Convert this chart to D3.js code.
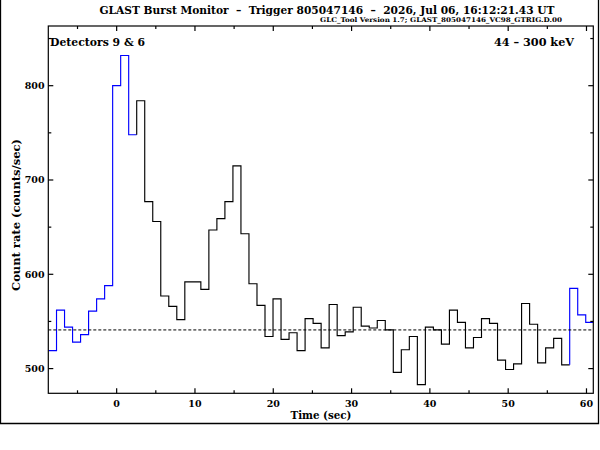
<!DOCTYPE html>
<html>
<head>
<meta charset="utf-8">
<script src="https://cdn.jsdelivr.net/npm/d3@7"></script>
<style>
  body { margin: 0; background: #fff; }
  svg text { font-family: "DejaVu Serif", "Liberation Serif", serif; font-weight: bold; fill: #000; white-space: pre; }
</style>
</head>
<body>
<svg id="chart" width="600" height="450"></svg>
<script>
/////////////////////////////////////////////////////////////////////////////////////
// Data
var titleText = "GLAST Burst Monitor  \u2013  Trigger 805047146  \u2013  2026, Jul 06, 16:12:21.43 UT";
var subtitleText = "GLC_Tool Version 1.7; GLAST_805047146_VC98_GTRIG.D.00";
var detectorText = "Detectors 9 & 6";
var energyText = "44 \u2013 300 keV";
var xLabel = "Time (sec)";
var yLabel = "Count rate (counts/sec)";

var binStart = -8.704;   // first bin edge (sec)
var binWidth = 1.024;    // bin width (sec)
var rates = [519, 562, 544, 528, 536, 561, 574, 588, 800, 832,
             748, 784, 677, 656, 577, 566, 552, 592, 592, 584,
             647, 659, 677, 715, 643, 590, 567, 534, 574, 531,
             538, 519, 553, 548, 522, 568, 535, 539, 565, 545,
             543, 551, 541, 496, 520, 534, 483, 544, 541, 526,
             562, 549, 522, 533, 553, 548, 509, 499, 505, 569,
             547, 506, 522, 532, 504, 585, 557, 549];
var background = 541;    // dashed background level
// bins used as background intervals (drawn blue), the rest is the source interval
var bgIntervals = [[0, 10], [65, 67]];

var xDomain = [-8.73, 60.87];
var yDomain = [473.8, 863.3];
var xMajor = [0, 10, 20, 30, 40, 50, 60];
var xMinor = [-5, 5, 15, 25, 35, 45, 55];
var yMajor = [500, 600, 700, 800];
var yMinor = [550, 650, 750, 850];

/////////////////////////////////////////////////////////////////////////////////////
// Layout
var svg = d3.select("#chart");
var plot = {left: 48.3, right: 593.3, top: 26, bottom: 393.3};

var xScale = d3.scaleLinear().domain(xDomain).range([plot.left, plot.right]);
var yScale = d3.scaleLinear().domain(yDomain).range([plot.bottom, plot.top]);

svg.append("defs").append("clipPath").attr("id", "plotClip")
   .append("rect")
   .attr("x", plot.left).attr("y", plot.top)
   .attr("width", plot.right - plot.left).attr("height", plot.bottom - plot.top);

// outer border
svg.append("path")
   .attr("d", "M0.5,0 V423.5 H598.5 V0")
   .attr("fill", "none").attr("stroke", "#000").attr("stroke-width", 1.3);

/////////////////////////////////////////////////////////////////////////////////////
// Histogram
function edge(i) { return binStart + i * binWidth; }

function isBg(i) {
  return bgIntervals.some(function(r) { return i >= r[0] && i <= r[1]; });
}

// split bins into runs of same type
var runs = [];
rates.forEach(function(v, i) {
  var bg = isBg(i);
  if (!runs.length || runs[runs.length - 1].bg !== bg) runs.push({bg: bg, bins: []});
  runs[runs.length - 1].bins.push(i);
});

var g = svg.append("g").attr("clip-path", "url(#plotClip)");

runs.forEach(function(run) {
  var first = run.bins[0];
  var pts = [];
  // connector from previous bin value (belongs to this run)
  if (first > 0) pts.push([xScale(edge(first)), yScale(rates[first - 1])]);
  run.bins.forEach(function(i) {
    pts.push([xScale(edge(i)), yScale(rates[i])]);
    pts.push([xScale(edge(i + 1)), yScale(rates[i])]);
  });
  g.append("path")
   .attr("d", d3.line()(pts))
   .attr("fill", "none")
   .attr("stroke", run.bg ? "#0000ff" : "#000")
   .attr("stroke-width", 1.15);
});

// background level
g.append("line")
 .attr("x1", plot.left).attr("x2", plot.right)
 .attr("y1", yScale(background)).attr("y2", yScale(background))
 .attr("stroke", "#000").attr("stroke-width", 1)
 .attr("stroke-dasharray", "3,2");

/////////////////////////////////////////////////////////////////////////////////////
// Axes
svg.append("rect")
   .attr("x", plot.left).attr("y", plot.top)
   .attr("width", plot.right - plot.left).attr("height", plot.bottom - plot.top)
   .attr("fill", "none").attr("stroke", "#000").attr("stroke-width", 1.2);

function ticksX(vals, len) {
  vals.forEach(function(t) {
    var x = xScale(t);
    svg.append("line").attr("x1", x).attr("x2", x)
       .attr("y1", plot.bottom).attr("y2", plot.bottom - len)
       .attr("stroke", "#000").attr("stroke-width", 1.2);
    svg.append("line").attr("x1", x).attr("x2", x)
       .attr("y1", plot.top).attr("y2", plot.top + len)
       .attr("stroke", "#000").attr("stroke-width", 1.2);
  });
}
function ticksY(vals, len) {
  vals.forEach(function(v) {
    var y = yScale(v);
    svg.append("line").attr("x1", plot.left).attr("x2", plot.left + len)
       .attr("y1", y).attr("y2", y)
       .attr("stroke", "#000").attr("stroke-width", 1.2);
    svg.append("line").attr("x1", plot.right).attr("x2", plot.right - len)
       .attr("y1", y).attr("y2", y)
       .attr("stroke", "#000").attr("stroke-width", 1.2);
  });
}
ticksX(xMajor, 5);
ticksX(xMinor, 3);
ticksY(yMajor, 5);
ticksY(yMinor, 3);

svg.selectAll("xTickLabel")
   .data(xMajor)
   .enter()
   .append("text")
   .attr("x", function(d) { return xScale(d); })
   .attr("y", 406.5)
   .attr("text-anchor", "middle")
   .style("font-size", "9.5px")
   .text(function(d) { return d; });

svg.selectAll("yTickLabel")
   .data(yMajor)
   .enter()
   .append("text")
   .attr("x", 44.5)
   .attr("y", function(d) { return yScale(d) + 3.3; })
   .attr("text-anchor", "end")
   .style("font-size", "9.5px")
   .text(function(d) { return d; });

/////////////////////////////////////////////////////////////////////////////////////
// Texts
svg.append("text")
   .attr("x", 99.5).attr("y", 13.5)
   .attr("textLength", 455).attr("lengthAdjust", "spacingAndGlyphs")
   .style("font-size", "10.5px")
   .text(titleText);

svg.append("text")
   .attr("x", 320).attr("y", 22)
   .attr("textLength", 242).attr("lengthAdjust", "spacingAndGlyphs")
   .style("font-size", "6.5px")
   .text(subtitleText);

svg.append("text")
   .attr("x", 50).attr("y", 45.5)
   .attr("textLength", 95).attr("lengthAdjust", "spacingAndGlyphs")
   .style("font-size", "10.5px")
   .text(detectorText);

svg.append("text")
   .attr("x", 494).attr("y", 45.5)
   .attr("textLength", 80).attr("lengthAdjust", "spacingAndGlyphs")
   .style("font-size", "10.5px")
   .text(energyText);

svg.append("text")
   .attr("x", 290.5).attr("y", 418.5)
   .attr("textLength", 61).attr("lengthAdjust", "spacingAndGlyphs")
   .style("font-size", "10.5px")
   .text(xLabel);

svg.append("text")
   .attr("transform", "translate(20,291) rotate(-90)")
   .attr("textLength", 152).attr("lengthAdjust", "spacingAndGlyphs")
   .style("font-size", "10.5px")
   .text(yLabel);
</script>
</body>
</html>
